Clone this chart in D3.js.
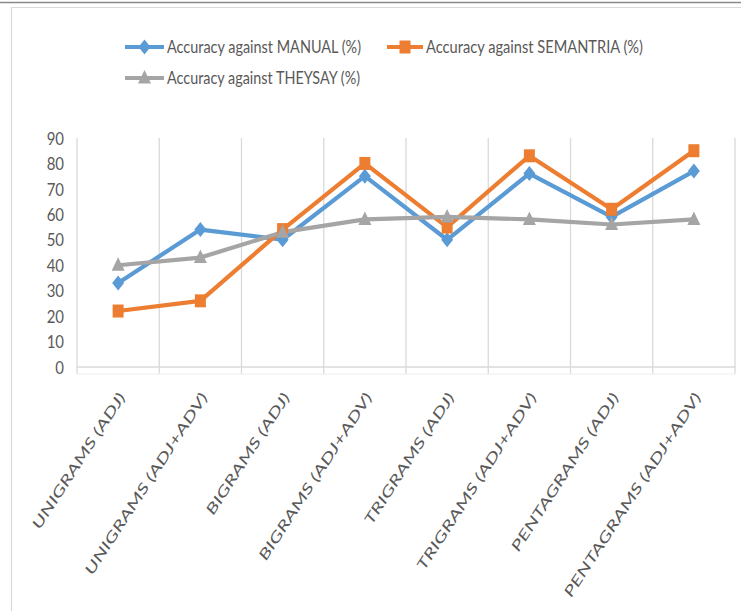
<!DOCTYPE html>
<html><head><meta charset="utf-8">
<script src="https://cdn.jsdelivr.net/npm/d3@7"></script>
<style>html,body{margin:0;padding:0;background:#fff;}svg{display:block;}</style>
</head><body>
<script>
const categories = ["UNIGRAMS (ADJ)","UNIGRAMS (ADJ+ADV)","BIGRAMS (ADJ)","BIGRAMS (ADJ+ADV)","TRIGRAMS (ADJ)","TRIGRAMS (ADJ+ADV)","PENTAGRAMS (ADJ)","PENTAGRAMS (ADJ+ADV)"];
const manual    = [33, 54, 50, 75, 50, 76, 59, 77];
const semantria = [22, 26, 54, 80, 55, 83, 62, 85];
const theysay   = [40, 43, 53, 58, 59, 58, 56, 58];
const seriesNames = ["Accuracy against MANUAL (%)","Accuracy against SEMANTRIA (%)","Accuracy against THEYSAY (%)"];
const yTicks = [0,10,20,30,40,50,60,70,80,90];

const W = 741, H = 611;
const colors = ["#5B9BD5","#ED7D31","#A5A5A5"];
const shapes = ["diamond","square","triangle"];
const seriesData = [manual, semantria, theysay];

const svg = d3.select("body").append("svg").attr("width",W).attr("height",H);

// frame
svg.append("line").attr("x1",0).attr("x2",W).attr("y1",2.5).attr("y2",2.5).attr("stroke","#8a8a8a").attr("stroke-width",1.5);
svg.append("path").attr("d",`M11.5,${H} V7.5 H${W}`).attr("fill","none").attr("stroke","#d9d9d9").attr("stroke-width",1.2);

const x = d3.scaleBand().domain(categories).range([77,735]);
const y = d3.scaleLinear().domain([0,90]).range([367,138]);

// vertical gridlines at category boundaries
const bounds = categories.map(c => x(c)).concat([x.range()[1]]);
svg.append("g").selectAll("line").data(bounds).join("line")
  .attr("x1",d=>d).attr("x2",d=>d).attr("y1",y(90)).attr("y2",y(0)+7)
  .attr("stroke","#d9d9d9").attr("stroke-width",1.3);
svg.append("line").attr("x1",x.range()[0]).attr("x2",x.range()[1]).attr("y1",y(0)).attr("y2",y(0))
  .attr("stroke","#d9d9d9").attr("stroke-width",1.3);
svg.append("line").attr("x1",x.range()[0]).attr("x2",x.range()[1]).attr("y1",y(0)+7).attr("y2",y(0)+7)
  .attr("stroke","#eeeeee").attr("stroke-width",1);

function squeeze(sel, f){
  sel.each(function(){ const L=this.getComputedTextLength(); d3.select(this).attr("textLength",L*f).attr("lengthAdjust","spacingAndGlyphs"); });
}

// y axis
const yAxis = svg.append("g").attr("transform","translate(64,0)")
  .call(d3.axisLeft(y).tickValues(yTicks).tickSize(0).tickPadding(0));
yAxis.select(".domain").remove();
yAxis.selectAll("text").attr("font-family","Lato, sans-serif").attr("font-size",17).attr("fill","#595959").attr("dy","0.36em");
squeeze(yAxis.selectAll("text"), 0.88);

// x axis labels
const xAxis = svg.append("g").attr("transform",`translate(0,${y(0)})`)
  .call(d3.axisBottom(x).tickSize(0));
xAxis.select(".domain").remove();
const xt = xAxis.selectAll("text")
  .attr("font-family","Lato, sans-serif").attr("font-style","italic").attr("font-size",14)
  .attr("fill","#595959").attr("text-anchor","end").attr("y",0).attr("dy",0)
  .attr("transform","translate(8,30) rotate(-57)");
let ref = 1;
xt.each(function(d){ if(d==="PENTAGRAMS (ADJ+ADV)") ref = 240/this.getComputedTextLength(); });
squeeze(xt, ref);

// lines
const line = d3.line().x((d,i)=>x(categories[i])+x.bandwidth()/2).y(d=>y(d));
function markerPath(shape){
  if(shape==="diamond") return "M0,-7.5 L6,0 L0,7.5 L-6,0 Z";
  if(shape==="square") return "M-5.5,-6.5 H5.5 V6.5 H-5.5 Z";
  return "M0,-8 L6.5,5.5 L-6.5,5.5 Z";
}
seriesData.forEach((vals,k)=>{
  svg.append("path").datum(vals).attr("d",line).attr("fill","none")
    .attr("stroke",colors[k]).attr("stroke-width",4.2).attr("stroke-linejoin","round");
});
seriesData.forEach((vals,k)=>{
  svg.append("g").selectAll("path").data(vals).join("path")
    .attr("d",markerPath(shapes[k]))
    .attr("transform",(d,i)=>`translate(${x(categories[i])+x.bandwidth()/2},${y(d)})`)
    .attr("fill",colors[k]);
});

// legend
const legendPos = [{lx:125,tx:167,y:47,w:194},{lx:387,tx:426,y:47,w:217},{lx:125,tx:167,y:78,w:193}];
legendPos.forEach((p,k)=>{
  const g = svg.append("g");
  const len = p.tx - p.lx - 3;
  g.append("line").attr("x1",p.lx).attr("x2",p.lx+len).attr("y1",p.y).attr("y2",p.y)
    .attr("stroke",colors[k]).attr("stroke-width",4);
  g.append("path").attr("d",markerPath(shapes[k])).attr("transform",`translate(${p.lx+len/2},${p.y})`).attr("fill",colors[k]);
  g.append("text").attr("x",p.tx).attr("y",p.y).attr("dy","0.36em")
    .attr("font-family","Lato, sans-serif").attr("font-size",18).attr("fill","#595959")
    .attr("textLength",p.w).attr("lengthAdjust","spacingAndGlyphs")
    .text(seriesNames[k]);
});
</script>
</body></html>
